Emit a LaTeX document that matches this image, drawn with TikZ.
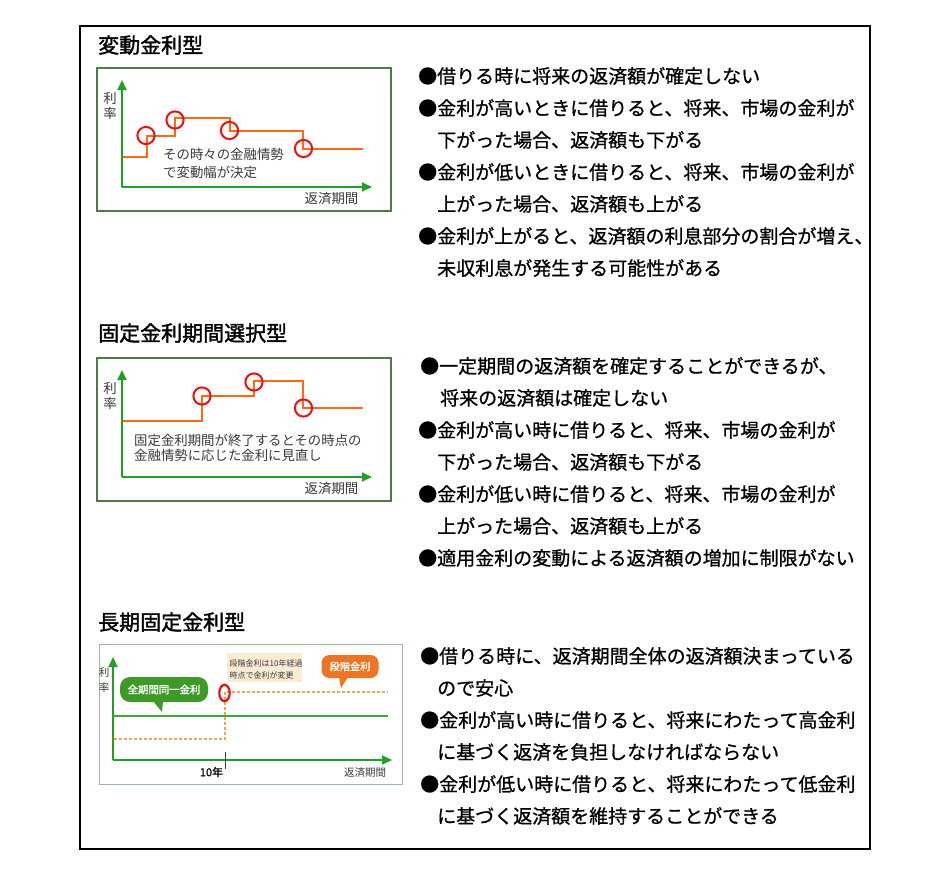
\documentclass[tikz,border=0pt]{standalone}
\usepackage{fontspec}
\setmainfont{Noto Sans CJK JP}
\newfontfamily\jpbody{Noto Sans CJK JP}[FakeBold=0.8]
\newfontfamily\jphead{Noto Sans CJK JP}[FakeBold=1.6]
\usetikzlibrary{arrows.meta}
\definecolor{boxgreen}{HTML}{4E7A45}
\definecolor{lightboxgreen}{HTML}{9CBB98}
\definecolor{axisgreen}{HTML}{22A022}
\definecolor{steporange}{HTML}{FF6A10}
\definecolor{ringred}{HTML}{F01010}
\definecolor{lineGreen}{HTML}{3DAA35}
\definecolor{calloutgreen}{HTML}{3E9A26}
\definecolor{calloutorange}{HTML}{F07420}
\definecolor{dashorange}{HTML}{F7A060}
\definecolor{notebeige}{HTML}{FBEBD3}
\definecolor{smallgray}{HTML}{3A3A3A}
\tikzset{
  bodytext/.style={anchor=west, inner sep=0pt, font=\jpbody\fontsize{19}{19}\selectfont},
  headtext/.style={anchor=west, inner sep=0pt, font=\jphead\fontsize{21}{21}\selectfont},
  chartbox/.style={draw=boxgreen, line width=1.6pt},
  chartboxlight/.style={draw=lightboxgreen, line width=1pt},
  axisline/.style={draw=axisgreen, line width=1.8pt, -{Triangle[length=10pt,width=9pt]}},
  stepline/.style={draw=steporange, line width=2.6pt},
  ring/.style={draw=ringred, line width=2pt},
  smalltext/.style={inner sep=0pt, text=smallgray, font=\fontsize{13.4}{13.4}\selectfont},
  tinytext/.style={inner sep=0pt, text=smallgray, font=\fontsize{10.5}{10.5}\selectfont},
  notetext/.style={anchor=west, inner sep=0pt, text=smallgray, font=\fontsize{8}{8}\selectfont},
  calloutlabel/.style={inner sep=0pt, text=white, font=\jphead\fontsize{10.4}{10.4}\selectfont},
}
\begin{document}
\begin{tikzpicture}[x=1pt,y=-1pt]
\useasboundingbox (0,0) rectangle (950,873);
\fill[white] (0,0) rectangle (950,873);
% outer frame
\draw[line width=1.4pt] (80,26) rectangle (870,849);

% ===== Section 1 =====
\node[headtext] (h1) at (98,45) {変動金利型};
\draw[chartbox] (97,68) rectangle (391,211);
\coordinate (o1) at (122,187);
\coordinate (y1) at (122,80);
\coordinate (x1) at (372,187);
\draw[axisline] (o1) -- (y1);
\draw[axisline] (o1) -- (x1);
\draw[stepline] (123,157) -| (147,136) -| (175,118) -| (230,131) -| (303,149) -- (363,149);
\draw[ring] (146,135.5) circle (8.6);
\draw[ring] (175,120) circle (8.6);
\draw[ring] (229.5,130.5) circle (8.6);
\draw[ring] (303.5,148.5) circle (8.6);
\node[smalltext] (r1a) at (110,98) {利};
\node[smalltext] (r1b) at (110,113) {率};
\node[smalltext] (p1) at (331.5,198.5) {返済期間};
\node[smalltext, anchor=west] (n1a) at (163,154) {その時々の金融情勢};
\node[smalltext, anchor=west] (n1b) at (163,172) {で変動幅が決定};

\node[bodytext] (t1a) at (418,76) {●借りる時に将来の返済額が確定しない};
\node[bodytext] (t1b) at (418,108) {●金利が高いときに借りると、将来、市場の金利が};
\node[bodytext] (t1c) at (437,140) {下がった場合、返済額も下がる};
\node[bodytext] (t1d) at (418,172) {●金利が低いときに借りると、将来、市場の金利が};
\node[bodytext] (t1e) at (437,204) {上がった場合、返済額も上がる};
\node[bodytext] (t1f) at (418,236) {●金利が上がると、返済額の利息部分の割合が増え、};
\node[bodytext] (t1g) at (437,268) {未収利息が発生する可能性がある};

% ===== Section 2 =====
\node[headtext] (h2) at (98,333) {固定金利期間選択型};
\draw[chartbox] (97,358) rectangle (391,501);
\coordinate (o2) at (122,477);
\coordinate (y2) at (122,370);
\coordinate (x2) at (372,477);
\draw[axisline] (o2) -- (y2);
\draw[axisline] (o2) -- (x2);
\draw[stepline] (123,421) -| (202,396) -| (254,381) -| (303,408) -- (363,408);
\draw[ring] (202,396) circle (8.6);
\draw[ring] (254,382) circle (8.6);
\draw[ring] (303.5,408) circle (8.6);
\node[smalltext] (r2a) at (110,388) {利};
\node[smalltext] (r2b) at (110,403) {率};
\node[smalltext] (p2) at (331.5,488.5) {返済期間};
\node[smalltext, anchor=west] (n2a) at (134,440) {固定金利期間が終了するとその時点の};
\node[smalltext, anchor=west] (n2b) at (134,455) {金融情勢に応じた金利に見直し};

\node[bodytext] (t2a) at (420,366) {●一定期間の返済額を確定することができるが、};
\node[bodytext] (t2b) at (440,398) {将来の返済額は確定しない};
\node[bodytext] (t2c) at (418,430) {●金利が高い時に借りると、将来、市場の金利が};
\node[bodytext] (t2d) at (437,462) {下がった場合、返済額も下がる};
\node[bodytext] (t2e) at (418,494) {●金利が低い時に借りると、将来、市場の金利が};
\node[bodytext] (t2f) at (437,526) {上がった場合、返済額も上がる};
\node[bodytext] (t2g) at (418,558) {●適用金利の変動による返済額の増加に制限がない};

% ===== Section 3 =====
\node[headtext] (h3) at (98,622) {長期固定金利型};
\draw[chartboxlight] (99,644) rectangle (402,784);
\coordinate (o3) at (113,760);
\coordinate (y3) at (113,657);
\coordinate (x3) at (392,760);
\draw[axisline, line width=1.4pt] (o3) -- (y3);
\draw[axisline, line width=1.4pt] (o3) -- (x3);
\draw[lineGreen, line width=1.8pt] (113,716) -- (388,716);
\draw[dashorange, line width=1.2pt, dash pattern=on 3pt off 2pt] (114,739) -- (225,739) -- (225,692) -- (388,692);
\draw[ring, line width=2.2pt] (224.5,693) ellipse (5.2 and 8.2);
\draw[smallgray, line width=0.9pt] (225,752) -- (225,769);
\node[tinytext] (r3a) at (104,673) {利};
\node[tinytext] (r3b) at (104,688) {率};
\node[tinytext, text=black, font=\jpbody\fontsize{11}{11}\selectfont] (ten) at (211.5,772) {10年};
\node[tinytext] (p3) at (365,773) {返済期間};
% beige note
\fill[notebeige] (227,653) rectangle (302,682);
\node[notetext] (nt1) at (229.5,663.5) {段階金利は10年経過};
\node[notetext] (nt2) at (229.5,675) {時点で金利が変更};
% green callout
\fill[calloutgreen] (153,701) -- (163,701) -- (162,712) -- cycle;
\node[fill=calloutgreen, rounded corners=10pt, minimum width=88pt, minimum height=25pt, inner sep=0pt] (cg) at (164,689.5) {};
\node[calloutlabel] (cgt) at (cg) {全期間同一金利};
% orange callout
\fill[calloutorange] (339,677) -- (348,677) -- (341,688) -- cycle;
\node[fill=calloutorange, rounded corners=8pt, minimum width=57pt, minimum height=23pt, inner sep=0pt] (co) at (350,666.5) {};
\node[calloutlabel, font=\jphead\fontsize{10.2}{10.2}\selectfont] (cot) at (co) {段階金利};

\node[bodytext] (t3a) at (420,656) {●借りる時に、返済期間全体の返済額決まっている};
\node[bodytext] (t3b) at (437,688) {ので安心};
\node[bodytext] (t3c) at (420,720) {●金利が高い時に借りると、将来にわたって高金利};
\node[bodytext] (t3d) at (437,752) {に基づく返済を負担しなければならない};
\node[bodytext] (t3e) at (420,784) {●金利が低い時に借りると、将来にわたって低金利};
\node[bodytext] (t3f) at (437,816) {に基づく返済額を維持することができる};
\end{tikzpicture}
\end{document}
